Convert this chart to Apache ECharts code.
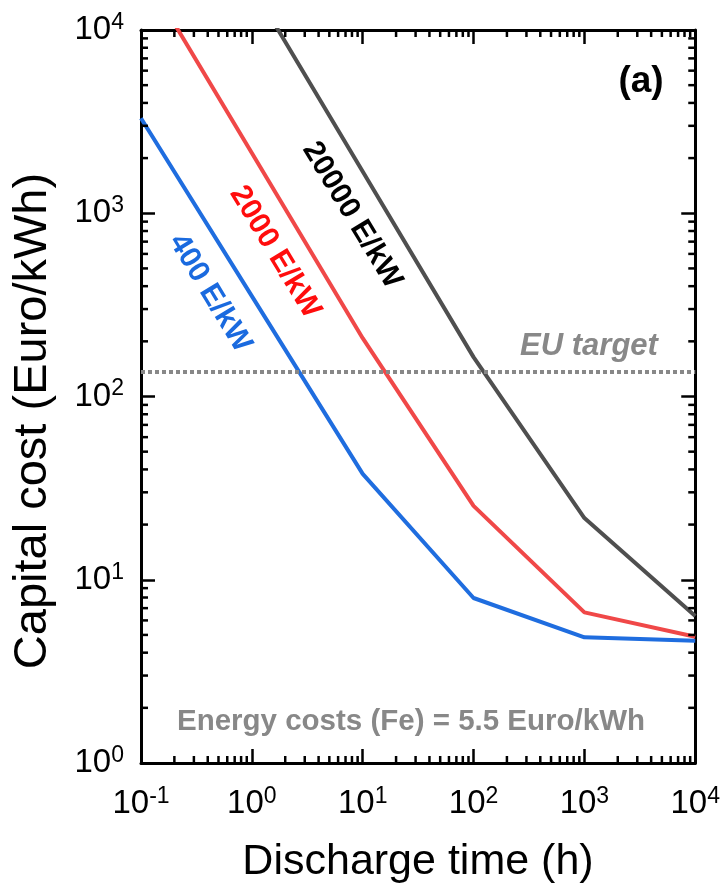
<!DOCTYPE html>
<html>
<head>
<meta charset="utf-8">
<script src="https://cdn.jsdelivr.net/npm/echarts@6/dist/echarts.min.js"></script>
<style>
  html, body { margin: 0; padding: 0; background: #fff; }
  #chart { width: 723px; height: 886px; }
</style>
</head>
<body>
<div id="chart"></div>
<script>
// Discharge time (h) at each decade
const times = [0.1, 1, 10, 100, 1000, 10000];
// Capital cost (Euro/kWh) for three power-cost levels
const cost400 = [3300, 353, 37.8, 7.95, 4.85, 4.65];
const cost2000 = [21800, 2130, 208, 25.3, 6.64, 4.89];
const cost20000 = [178000, 17400, 1690, 164, 21.7, 6.34];
const euTarget = 136;
const seriesNames = ['400 E/kW', '2000 E/kW', '20000 E/kW'];
const xExtent = [0.1, 10000];
const yExtent = [1, 10000];

const FONT = "'Liberation Sans', Arial, Helvetica, sans-serif";

// minor tick positions: 2..9 x 10^k inside each decade
function minorValues(lo, hi) {
  const out = [];
  for (let k = Math.round(Math.log10(lo)); k < Math.round(Math.log10(hi)); k++) {
    for (let m = 2; m <= 9; m++) out.push(m * Math.pow(10, k));
  }
  return out;
}

function powLabel(v) {
  const e = Math.round(Math.log10(v));
  return '{b|10}{s|' + (e < 0 ? '-' + (-e) : e) + '}';
}

const labelRich = {
  b: { fontSize: 33, lineHeight: 38, fontFamily: FONT, color: '#000' },
  s: { fontSize: 23, lineHeight: 22, fontFamily: FONT, color: '#000', verticalAlign: 'top' }
};

function logAxis(extent, position, showLabel) {
  return {
    type: 'log', logBase: 10, min: extent[0], max: extent[1], position: position,
    axisLine: { show: true, onZero: false, lineStyle: { color: '#000', width: 3 } },
    axisTick: { show: true, inside: true, length: 14, lineStyle: { color: '#000', width: 2.5 } },
    splitLine: { show: false },
    minorTick: { show: false },
    axisLabel: showLabel ? {
      show: true, formatter: powLabel, rich: labelRich, margin: position === 'bottom' ? 22 : 17
    } : { show: false }
  };
}

function minorTicks(dir, values) {
  return {
    type: 'custom', silent: true, clip: false, z: 6,
    xAxisIndex: 0, yAxisIndex: 0,
    data: values.map(v => dir === 'x' ? [v, 10] : [1, v]),
    renderItem: function (params, api) {
      const cs = params.coordSys;
      const p = api.coord([api.value(0), api.value(1)]);
      const st = { stroke: '#000', lineWidth: 2.5 };
      const L = 7;
      if (dir === 'x') {
        return { type: 'group', children: [
          { type: 'line', shape: { x1: p[0], y1: cs.y + cs.height, x2: p[0], y2: cs.y + cs.height - L }, style: st },
          { type: 'line', shape: { x1: p[0], y1: cs.y, x2: p[0], y2: cs.y + L }, style: st }
        ] };
      }
      return { type: 'group', children: [
        { type: 'line', shape: { x1: cs.x, y1: p[1], x2: cs.x + L, y2: p[1] }, style: st },
        { type: 'line', shape: { x1: cs.x + cs.width, y1: p[1], x2: cs.x + cs.width - L, y2: p[1] }, style: st }
      ] };
    }
  };
}

function costSeries(name, values, color, extra) {
  return Object.assign({
    name: name, type: 'line', xAxisIndex: 0, yAxisIndex: 0,
    data: times.map((t, i) => [t, values[i]]),
    showSymbol: false, symbol: 'none', clip: true, z: 3,
    lineStyle: { color: color, width: 4 }, itemStyle: { color: color }
  }, extra || {});
}

function txt(x, y, text, font, fill, rotation) {
  return { type: 'text', x: x, y: y, rotation: rotation || 0, style: {
    text: text, font: font, fill: fill,
    textAlign: 'center', textVerticalAlign: 'middle', align: 'center', verticalAlign: 'middle' } };
}

const chart = echarts.init(document.getElementById('chart'), null, { renderer: 'canvas' });

// slope of a -1 power law in pixel space (x: 111 px/decade, y: 183.25 px/decade)
const ROT = -Math.atan(183.25 / 111);

chart.setOption({
  animation: false,
  backgroundColor: '#fff',
  grid: { left: 141, right: 27, top: 30, bottom: 123, containLabel: false },
  xAxis: [logAxis(xExtent, 'bottom', true), logAxis(xExtent, 'top', false)],
  yAxis: [logAxis(yExtent, 'left', true), logAxis(yExtent, 'right', false)],
  series: [
    costSeries(seriesNames[0], cost400, '#1f6ddf', {
      markLine: {
        silent: true, symbol: 'none', label: { show: false },
        lineStyle: { color: '#888', width: 4, type: [4, 3] },
        data: [{ yAxis: euTarget }]
      }
    }),
    costSeries(seriesNames[1], cost2000, '#f04848'),
    costSeries(seriesNames[2], cost20000, '#4f4f4f'),
    minorTicks('x', minorValues(xExtent[0], xExtent[1])),
    minorTicks('y', minorValues(yExtent[0], yExtent[1]))
  ],
  graphic: [
    txt(418, 862, 'Discharge time (h)', '43px ' + FONT, '#000'),
    txt(33, 421, 'Capital cost (Euro/kWh)', '47px ' + FONT, '#000', Math.PI / 2),
    txt(641, 82, '(a)', 'bold 37px ' + FONT, '#000'),
    txt(589, 346, 'EU target', 'italic bold 31px ' + FONT, '#888'),
    txt(411, 722, 'Energy costs (Fe) = 5.5 Euro/kWh', 'bold 29.5px ' + FONT, '#888'),
    txt(210, 293, seriesNames[0], 'bold 30px ' + FONT, '#1a6adf', ROT),
    txt(275, 252, seriesNames[1], 'bold 30px ' + FONT, '#ff0d0d', ROT),
    txt(352, 215, seriesNames[2], 'bold 30px ' + FONT, '#000', ROT)
  ]
});
</script>
</body>
</html>
